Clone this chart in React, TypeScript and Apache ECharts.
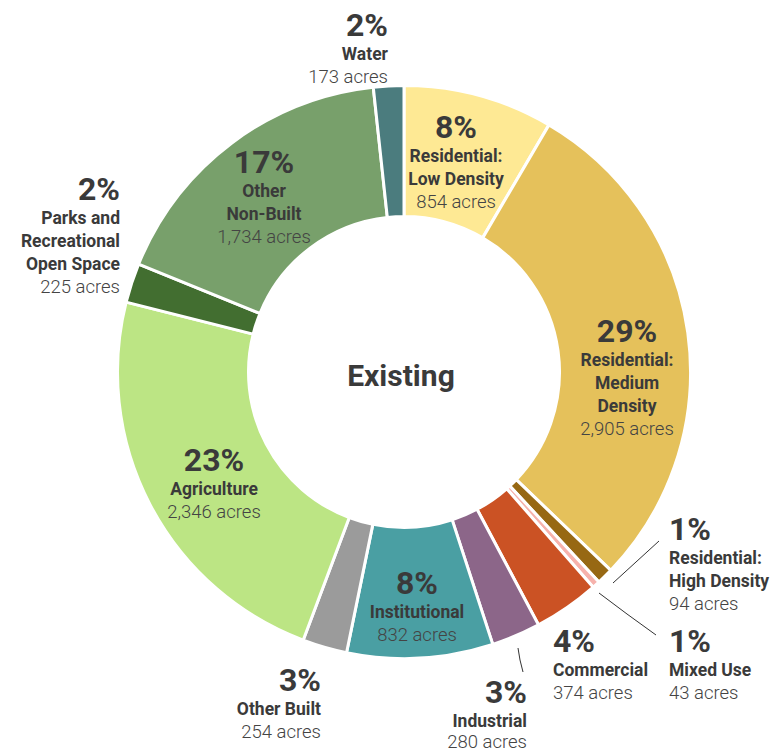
import React, { useEffect, useRef } from "react";
import * as echarts from "echarts";

// ---- data ----
const categories = [
  "Residential:\nLow Density",
  "Residential:\nMedium\nDensity",
  "Residential:\nHigh Density",
  "Mixed Use",
  "Commercial",
  "Industrial",
  "Institutional",
  "Other Built",
  "Agriculture",
  "Parks and\nRecreational\nOpen Space",
  "Other\nNon-Built",
  "Water",
];
const acres = [854, 2905, 94, 43, 374, 280, 832, 254, 2346, 225, 1734, 173];
const percentLabels = ["8%", "29%", "1%", "1%", "4%", "3%", "8%", "3%", "23%", "2%", "17%", "2%"];
const centerTitle = "Existing";

// ---- styles / layout ----
const colors = [
  "#FEE994",
  "#E5C15B",
  "#976813",
  "#F6B2AC",
  "#CB5224",
  "#8C6689",
  "#4A9FA3",
  "#9B9B9B",
  "#BCE584",
  "#426E30",
  "#78A06B",
  "#4B7C7E",
];
// [x, top, align, last-line height]
const labelSpots: [number, number, "left" | "center" | "right", number][] = [
  [456, 110, "center", 23],
  [627, 314, "center", 23],
  [669, 512, "left", 23],
  [669, 624, "left", 23],
  [553, 624, "left", 23],
  [527, 675, "right", 19],
  [417, 566, "center", 23],
  [321, 663, "right", 23],
  [214, 443, "center", 23],
  [120, 172, "right", 23],
  [264, 145, "center", 23],
  [388, 8, "right", 23],
];
const leaderLines: Record<number, number[][]> = {
  2: [[613, 583], [636, 562], [659, 541]],
  3: [[599, 593], [627, 614], [656, 635]],
  5: [[518, 648], [520, 660], [523, 672]],
};

const TXT = "#3a3a3a";
const FONT = "Roboto, 'Noto Sans', sans-serif";

function richFor(align: string, lastLH: number) {
  return {
    p: { fontSize: 32, fontWeight: "bold", lineHeight: 34, color: TXT, fontFamily: FONT, align },
    n: { fontSize: 17.5, fontWeight: "bold", lineHeight: 23, color: TXT, fontFamily: FONT, align },
    a: { fontSize: 18.5, fontWeight: 300, lineHeight: lastLH, color: "#444", fontFamily: FONT, align },
  };
}

export default function App() {
  const ref = useRef<HTMLDivElement>(null);
  useEffect(() => {
    if (!ref.current) return;
    const chart = echarts.init(ref.current, null, { renderer: "svg" });
    const data = acres.map((v, i) => ({
      value: v,
      name: categories[i],
      itemStyle: { color: colors[i] },
      label: { rich: richFor(labelSpots[i][2], labelSpots[i][3]) },
      labelLine: { show: !!leaderLines[i], lineStyle: { color: "#333", width: 1 } },
    }));
    chart.setOption({
      animation: false,
      backgroundColor: "#ffffff",
      graphic: [
        {
          type: "text",
          x: 401,
          y: 375,
          style: {
            text: centerTitle,
            fontSize: 30,
            fontWeight: "bold",
            fontFamily: FONT,
            fill: TXT,
            align: "center",
            verticalAlign: "middle",
          },
        },
      ],
      series: [
        {
          type: "pie",
          center: [404, 372],
          radius: [155.5, 286.5],
          startAngle: 90,
          clockwise: true,
          avoidLabelOverlap: false,
          emphasis: { disabled: true },
          itemStyle: { borderColor: "#ffffff", borderWidth: 3 },
          label: {
            show: true,
            position: "outside",
            alignTo: "none",
            width: 180,
            overflow: "none",
            formatter: (p: any) => {
              const i = p.dataIndex;
              const nameLines = categories[i].split("\n").map((s) => `{n|${s}}`).join("\n");
              return `{p|${percentLabels[i]}}\n${nameLines}\n{a|${acres[i].toLocaleString("en-US")} acres}`;
            },
          },
          labelLayout: (params: any) => {
            const i = params.dataIndex;
            const s = labelSpots[i];
            const out: any = { x: s[0], y: s[1], align: s[2], verticalAlign: "top" };
            if (leaderLines[i]) out.labelLinePoints = leaderLines[i];
            return out;
          },
          data,
        },
      ],
    });
    return () => chart.dispose();
  }, []);
  return (
    <div
      ref={ref}
      style={{ position: "fixed", left: 0, top: 0, width: 770, height: 753, background: "#fff" }}
    />
  );
}
